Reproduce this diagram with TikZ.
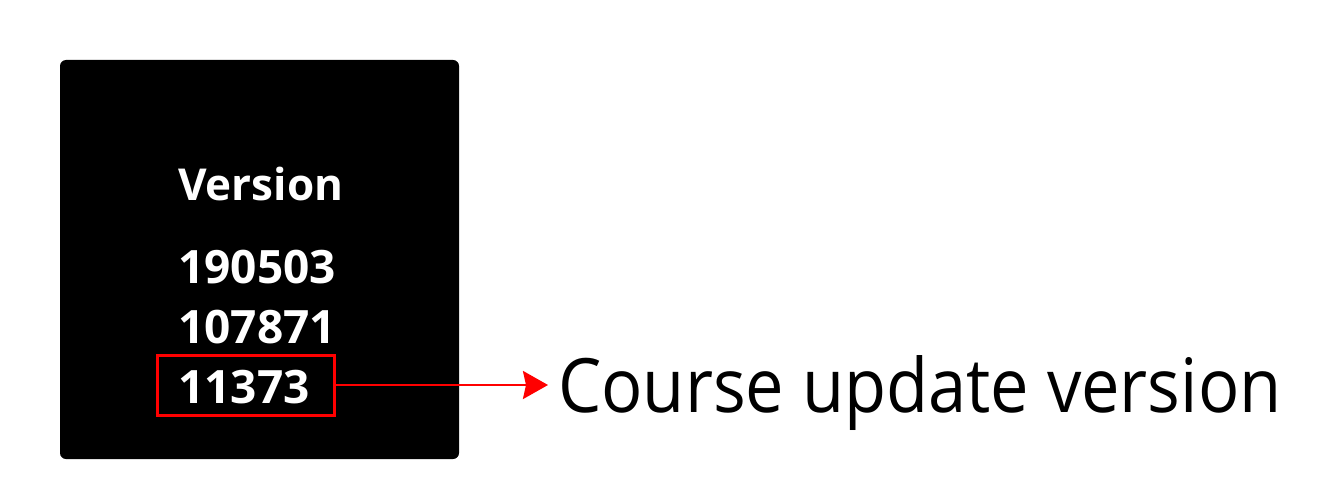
\documentclass[tikz,border=0pt]{standalone}
\usepackage{fontspec}
\setmainfont{Open Sans}
\newfontfamily\narrowfont[FakeStretch=0.915]{Open Sans}
\usetikzlibrary{arrows.meta}
\begin{document}
\begin{tikzpicture}[x=1pt,y=-1pt,
  lbl/.style={text=white,font=\bfseries\fontsize{44}{44}\selectfont,anchor=base west,inner sep=0pt},
  num/.style={lbl,font=\bfseries\fontsize{46}{46}\selectfont},
  hl/.style={draw=red,line width=3pt},
  conn/.style={draw=red,line width=2.5pt,-{Stealth[length=25pt,width=28pt,inset=3pt]}}]
\useasboundingbox (0,0) rectangle (1330,500);
\fill[black,rounded corners=6pt] (60,60) rectangle (459,459);
\node[lbl] (ver) at (178,200) {Version};
\node[num] (v1) at (178,283) {190503};
\node[num] (v2) at (178,343) {107871};
\node[num] (v3) at (178,403) {11373};
\node[hl,minimum width=177pt,minimum height=60pt,inner sep=0pt] (box) at (245.5,385) {};
\node[font=\narrowfont\fontsize{75}{75}\selectfont,anchor=base west,inner sep=0pt] (txt) at (558,412) {Course update version};
\coordinate (tip) at (548,385);
\draw[conn] (box.east) -- (tip);
\end{tikzpicture}
\end{document}
